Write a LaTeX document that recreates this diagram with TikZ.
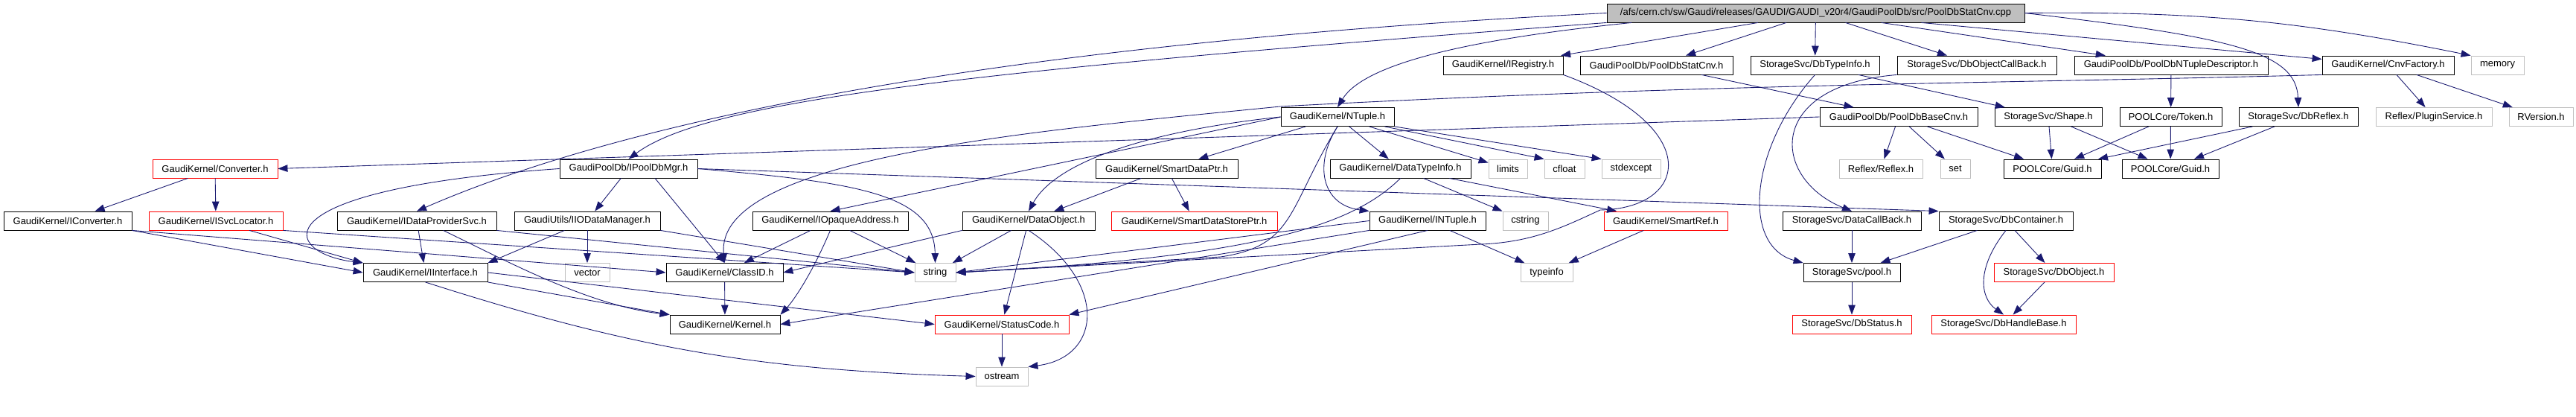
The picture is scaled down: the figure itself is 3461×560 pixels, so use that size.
\documentclass[tikz,border=0pt]{standalone}
\usepackage{fontspec}
\setmainfont{Liberation Sans}
\usetikzlibrary{arrows.meta}
\definecolor{edgeblue}{HTML}{191970}
\definecolor{sysgray}{HTML}{BFBFBF}
\tikzset{
  hdr/.style={
    rectangle,
    draw=black,
    line width=0.5pt,
    align=center,
    minimum height=5mm,
    inner sep=0pt,
    font=\fontsize{7.4}{8}\selectfont
  },
  redhdr/.style={hdr, draw=red},
  syshdr/.style={hdr, draw=sysgray},
  roothdr/.style={hdr, fill=sysgray},
  incl/.style={-{Triangle[length=2.6mm, width=1.9mm]}, draw=edgeblue, line width=0.5pt}
}

\begin{document}
\begin{tikzpicture}[x=0.02cm,y=0.02cm]
\useasboundingbox (0,0) rectangle (3461,-560);

\node[roothdr, minimum width=11.22cm] (root) at (2439.5,-17.5) {/afs/cern.ch/sw/Gaudi/releases/GAUDI/GAUDI\_v20r4/GaudiPoolDb/src/PoolDbStatCnv.cpp};

\node[hdr, minimum width=3.22cm] (reg) at (2019.5,-87.5) {GaudiKernel/IRegistry.h};
\node[hdr, minimum width=4.10cm] (statcnv) at (2225.5,-87.5) {GaudiPoolDb/PoolDbStatCnv.h};
\node[hdr, minimum width=3.46cm] (dbtype) at (2438.5,-87.5) {StorageSvc/DbTypeInfo.h};
\node[hdr, minimum width=4.28cm] (objcb) at (2656,-87.5) {StorageSvc/DbObjectCallBack.h};
\node[hdr, minimum width=5.20cm] (ntdesc) at (2917,-87.5) {GaudiPoolDb/PoolDbNTupleDescriptor.h};
\node[hdr, minimum width=3.54cm] (cnvfac) at (3208.5,-87.5) {GaudiKernel/CnvFactory.h};
\node[syshdr, minimum width=1.42cm] (memory) at (3355.5,-87.5) {memory};

\node[hdr, minimum width=3.04cm] (ntuple) at (1797,-157) {GaudiKernel/NTuple.h};
\node[hdr, minimum width=4.24cm] (basecnv) at (2551,-157) {GaudiPoolDb/PoolDbBaseCnv.h};
\node[hdr, minimum width=2.88cm] (shape) at (2752,-157) {StorageSvc/Shape.h};
\node[hdr, minimum width=2.74cm] (token) at (2916.5,-157) {POOLCore/Token.h};
\node[hdr, minimum width=3.20cm] (dbreflex) at (3088,-157) {StorageSvc/DbReflex.h};
\node[syshdr, minimum width=3.12cm] (plugin) at (3270,-157) {Reflex/PluginService.h};
\node[syshdr, minimum width=1.72cm] (rversion) at (3414,-157) {RVersion.h};

\node[redhdr, minimum width=3.36cm] (converter) at (289,-226.5) {GaudiKernel/Converter.h};
\node[hdr, minimum width=3.70cm] (dbmgr) at (844.5,-226.5) {GaudiPoolDb/IPoolDbMgr.h};
\node[hdr, minimum width=3.82cm] (sdptr) at (1567.5,-226.5) {GaudiKernel/SmartDataPtr.h};
\node[hdr, minimum width=3.78cm] (dtinfo) at (1881.5,-226.5) {GaudiKernel/DataTypeInfo.h};
\node[syshdr, minimum width=1.04cm] (limits) at (2026,-226.5) {limits};
\node[syshdr, minimum width=1.08cm] (cfloat) at (2102,-226.5) {cfloat};
\node[syshdr, minimum width=1.58cm] (stdexcept) at (2191.5,-226.5) {stdexcept};
\node[syshdr, minimum width=2.24cm] (reflex) at (2527,-226.5) {Reflex/Reflex.h};
\node[syshdr, minimum width=0.80cm] (set) at (2627,-226.5) {set};
\node[hdr, minimum width=2.62cm] (guida) at (2757.5,-226.5) {POOLCore/Guid.h};
\node[hdr, minimum width=2.60cm] (guidb) at (2916,-226.5) {POOLCore/Guid.h};

\node[hdr, minimum width=3.44cm] (iconv) at (91,-296.5) {GaudiKernel/IConverter.h};
\node[redhdr, minimum width=3.60cm] (svcloc) at (290,-296.5) {GaudiKernel/ISvcLocator.h};
\node[hdr, minimum width=4.28cm] (dpsvc) at (560,-296.5) {GaudiKernel/IDataProviderSvc.h};
\node[hdr, minimum width=3.92cm] (iodm) at (789,-296.5) {GaudiUtils/IIODataManager.h};
\node[hdr, minimum width=4.18cm] (opaque) at (1115.5,-296.5) {GaudiKernel/IOpaqueAddress.h};
\node[hdr, minimum width=3.56cm] (dataobj) at (1382,-296.5) {GaudiKernel/DataObject.h};
\node[redhdr, minimum width=4.46cm] (sdsptr) at (1604.5,-296.5) {GaudiKernel/SmartDataStorePtr.h};
\node[hdr, minimum width=3.12cm] (intuple) at (1918,-296.5) {GaudiKernel/INTuple.h};
\node[syshdr, minimum width=1.22cm] (cstring) at (2049.5,-296.5) {cstring};
\node[redhdr, minimum width=3.32cm] (smartref) at (2238,-296.5) {GaudiKernel/SmartRef.h};
\node[hdr, minimum width=3.72cm] (datacb) at (2488,-296.5) {StorageSvc/DataCallBack.h};
\node[hdr, minimum width=3.60cm] (dbcont) at (2695,-296.5) {StorageSvc/DbContainer.h};

\node[hdr, minimum width=3.34cm] (iface) at (571.5,-366) {GaudiKernel/IInterface.h};
\node[syshdr, minimum width=1.20cm] (vector) at (789,-366) {vector};
\node[hdr, minimum width=3.14cm] (classid) at (973.5,-366) {GaudiKernel/ClassID.h};
\node[syshdr, minimum width=1.10cm] (string) at (1256.5,-366) {string};
\node[syshdr, minimum width=1.40cm] (typeinfo) at (2078,-366) {typeinfo};
\node[hdr, minimum width=2.60cm] (pool) at (2488,-366) {StorageSvc/pool.h};
\node[redhdr, minimum width=3.22cm] (dbobj) at (2759.5,-366) {StorageSvc/DbObject.h};

\node[hdr, minimum width=2.96cm] (kernel) at (974,-435.5) {GaudiKernel/Kernel.h};
\node[redhdr, minimum width=3.60cm] (status) at (1346,-435.5) {GaudiKernel/StatusCode.h};
\node[redhdr, minimum width=3.20cm] (dbstatus) at (2488,-435.5) {StorageSvc/DbStatus.h};
\node[redhdr, minimum width=3.88cm] (handle) at (2692,-435.5) {StorageSvc/DbHandleBase.h};

\node[syshdr, minimum width=1.40cm] (ostream) at (1346,-505.5) {ostream};

\coordinate (cnvbend) at (1720,-143);
\coordinate (regbenda) at (2150,-282);
\coordinate (regbendb) at (1990,-328);
\coordinate (ntbend) at (1640,-345);

\draw[incl] (root) -- (reg);
\draw[incl] (root) -- (statcnv);
\draw[incl] (root) -- (dbtype);
\draw[incl] (root) -- (objcb);
\draw[incl] (root) -- (ntdesc);
\draw[incl] (root) -- (cnvfac);
\draw[incl] (root.east) to[bend left=6] (memory.north west);
\draw[incl] (root.east) .. controls (3000,-50) and (3085,-70) .. (dbreflex.north);
\draw[incl] (root.-177) .. controls (1950,-55) and (1830,-90) .. (ntuple.north);
\draw[incl] (root.south west) .. controls (1300,-95) and (950,-135) .. (dbmgr.north);
\draw[incl] (root.west) .. controls (1300,-60) and (820,-170) .. (dpsvc.north);

\draw[incl] (statcnv) -- (basecnv);
\draw[incl] (dbtype) -- (shape);
\draw[incl] (dbtype.south) .. controls (2350,-200) and (2340,-330) .. (pool.north west);
\draw[incl] (objcb.south west) .. controls (2370,-115) and (2380,-240) .. (datacb.north);
\draw[incl] (ntdesc) -- (token);
\draw[incl] (cnvfac) -- (plugin);
\draw[incl] (cnvfac) -- (rversion);
\draw[incl] (cnvfac.south west) .. controls (2700,-112) and (2300,-112) .. (cnvbend) .. controls (1400,-175) and (960,-210) .. (classid.north);
\draw[incl] (reg.south east) .. controls (2290,-170) and (2270,-280) .. (regbenda) .. controls (2100,-305) and (2060,-325) .. (regbendb) -- (string.east);

\draw[incl] (ntuple) -- (sdptr);
\draw[incl] (ntuple) -- (dtinfo);
\draw[incl] (ntuple) -- (limits);
\draw[incl] (ntuple) -- (cfloat.north west);
\draw[incl] (ntuple.south east) -- (stdexcept.north west);
\draw[incl] (ntuple.south) .. controls (1765,-220) and (1775,-275) .. (intuple.north west);
\draw[incl] (ntuple.west) -- (opaque.north);
\draw[incl] (ntuple.west) .. controls (1550,-175) and (1420,-215) .. (dataobj.north);
\draw[incl] (ntuple.south) .. controls (1730,-280) and (1740,-330) .. (ntbend) -- (string.east);

\draw[incl] (basecnv.west) -- (converter.east);
\draw[incl] (basecnv) -- (reflex);
\draw[incl] (basecnv) -- (set);
\draw[incl] (basecnv) -- (guida);
\draw[incl] (shape) -- (guida);
\draw[incl] (shape) -- (guidb);
\draw[incl] (token) -- (guida);
\draw[incl] (token) -- (guidb);
\draw[incl] (dbreflex) -- (guida);
\draw[incl] (dbreflex) -- (guidb);

\draw[incl] (converter) -- (iconv);
\draw[incl] (converter) -- (svcloc);
\draw[incl] (dbmgr.west) .. controls (340,-255) and (380,-340) .. (iface.north west);
\draw[incl] (dbmgr) -- (iodm);
\draw[incl] (dbmgr.-20) -- (classid.north);
\draw[incl] (dbmgr.east) .. controls (1150,-245) and (1255,-260) .. (string.north);
\draw[incl] (dbmgr.east) -- (dbcont.north west);
\draw[incl] (sdptr) -- (dataobj);
\draw[incl] (sdptr) -- (sdsptr);
\draw[incl] (dtinfo) -- (cstring);
\draw[incl] (dtinfo) -- (smartref);
\draw[incl] (dtinfo.south) .. controls (1820,-300) and (1700,-345) .. (string.east);

\draw[incl] (iconv.south east) -- (iface.west);
\draw[incl] (iconv.south east) -- (classid.west);
\draw[incl] (svcloc) -- (iface.north west);
\draw[incl] (svcloc.south east) -- (string.west);
\draw[incl] (dpsvc) -- (iface);
\draw[incl] (dpsvc.-20) .. controls (680,-350) and (790,-410) .. (kernel.north west);
\draw[incl] (dpsvc.south east) -- (string.west);
\draw[incl] (iodm) -- (iface.north east);
\draw[incl] (iodm) -- (vector);
\draw[incl] (iodm.south east) -- (string.west);
\draw[incl] (opaque) -- (classid);
\draw[incl] (opaque.south) .. controls (1090,-370) and (1065,-405) .. (kernel.north east);
\draw[incl] (opaque) -- (string);
\draw[incl] (dataobj.south west) -- (classid.east);
\draw[incl] (dataobj) -- (string);
\draw[incl] (dataobj) -- (status);
\draw[incl] (dataobj.south) .. controls (1490,-380) and (1480,-480) .. (ostream.north east);
\draw[incl] (intuple) -- (typeinfo);
\draw[incl] (intuple.west) -- (string.east);
\draw[incl] (intuple.south west) -- (kernel.east);
\draw[incl] (intuple.south) -- (status.north east);
\draw[incl] (smartref) -- (typeinfo);
\draw[incl] (datacb) -- (pool);
\draw[incl] (dbcont) -- (pool);
\draw[incl] (dbcont) -- (dbobj);
\draw[incl] (dbcont.south) .. controls (2655,-360) and (2660,-400) .. (handle.north);

\draw[incl] (iface.south east) -- (kernel.north west);
\draw[incl] (iface.east) -- (status.west);
\draw[incl] (iface.south) to[bend right=8] (ostream.west);
\draw[incl] (classid) -- (kernel);
\draw[incl] (status) -- (ostream);
\draw[incl] (dbobj) -- (handle);
\draw[incl] (pool) -- (dbstatus);
\end{tikzpicture}
\end{document}
